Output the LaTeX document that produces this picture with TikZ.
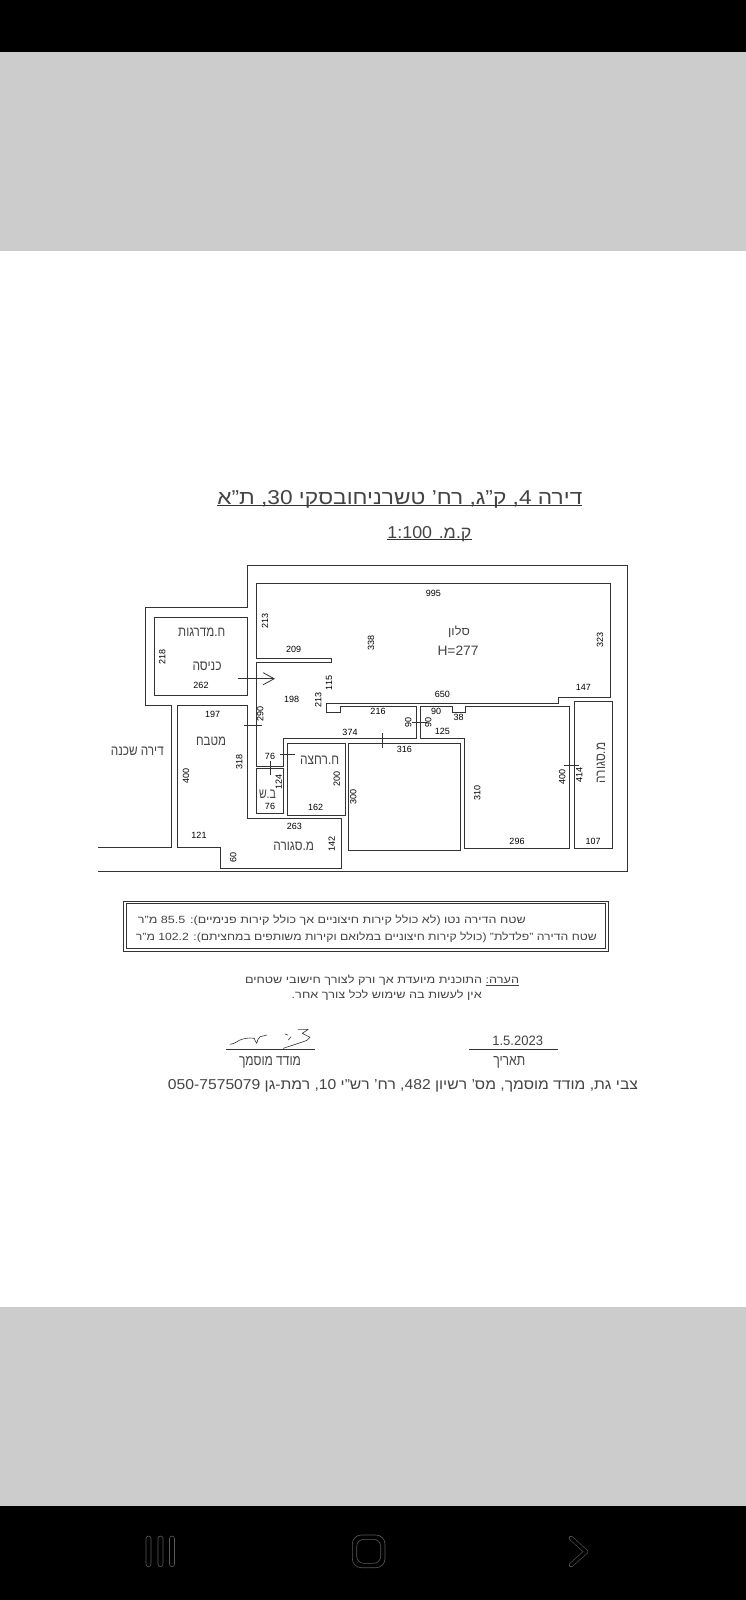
\documentclass[tikz,border=0pt]{standalone}
\usepackage{graphicx}
\usepackage{fontspec}
\setmainfont[Script=Hebrew]{Liberation Sans}
\TeXXeTstate=1
\usetikzlibrary{arrows.meta}
\definecolor{wallc}{HTML}{333333}
\definecolor{bandgray}{HTML}{CCCCCC}
\definecolor{navc}{HTML}{5A5A5A}
\definecolor{textc}{HTML}{444444}
\newcommand\hb[1]{\beginR #1\endR}
\newcommand\lt[1]{\beginL #1\endL}
\newcommand\fit[3]{\resizebox{#1pt}{#2pt}{#3}}
\tikzset{
  wall/.style={draw=wallc,line width=1pt,line join=miter},
  tick/.style={draw=wallc,line width=0.9pt},
  dim/.style={font=\fontsize{9}{9}\selectfont,text=black,inner sep=0pt},
  dimv/.style={dim,rotate=90},
  lab/.style={text=textc,inner sep=0pt,anchor=base},
  navicon/.style={draw=navc,line width=0.6pt},
  sig/.style={draw=wallc,line width=0.6pt,line cap=round,line join=round}
}
\begin{document}
\begin{tikzpicture}[x=1pt,y=-1pt]
\useasboundingbox (0,0) rectangle (746,1600);
% screen bands
\fill[white] (0,0) rectangle (746,1600);
\fill[black] (0,0) rectangle (746,52);
\fill[bandgray] (0,52) rectangle (746,251);
\fill[bandgray] (0,1307) rectangle (746,1506);
\fill[black] (0,1506) rectangle (746,1600);
% navigation icons
\draw[navicon,rounded corners=2.5pt] (146,1536) rectangle (151,1566.7);
\draw[navicon,rounded corners=2.5pt] (158,1536) rectangle (163,1566.7);
\draw[navicon,rounded corners=2.5pt] (169.5,1536) rectangle (174.5,1566.7);
\draw[navicon,rounded corners=9pt] (352.3,1535) rectangle (385,1567.7);
\draw[navicon,rounded corners=7pt] (356.7,1539.3) rectangle (380.7,1563.3);
\draw[navc,line width=4.4pt,line cap=round,line join=round] (571,1538) -- (586,1551.7) -- (571,1565);
\draw[black,line width=3.2pt,line cap=round,line join=round] (571,1538) -- (586,1551.7) -- (571,1565);
% title
\node[lab] (title) at (399.8,504) {\fit{365}{14}{\hb{דירה \lt{4}, ק"ג, רח' טשרניחובסקי \lt{30}, ת"א}}};
\draw[wallc,line width=0.8pt] (217.3,505.7) -- (582.3,505.7);
\node[lab] (scaletxt) at (429.5,538) {\fit{84}{12}{\hb{ק.מ. \lt{1:100}}}};
\draw[wallc,line width=0.8pt] (387.3,539.3) -- (471.7,539.3);
% outer line
\draw[wall,draw=wallc] (98.3,871.7) -- (627.3,871.7) -- (627.3,565) -- (247.3,565) -- (247.3,607.3) -- (145.7,607.3) -- (145.7,705) -- (171,705) -- (171,847.3) -- (98.3,847.3);
% stairs
\draw[wall] (154.3,617.7) rectangle (247.3,695.3);
% living + corridor
\draw[wall] (256.3,583) -- (610.3,583) -- (610.3,697.7) -- (558.3,697.7) -- (558.3,703.3) -- (326.7,703.3) -- (326.7,712.3) -- (340,712.3) -- (340,706) -- (416.7,706) -- (416.7,738.3) -- (283.3,738.3) -- (283.3,766) -- (256.3,766) -- (256.3,662.3) -- (331,662.3) -- (331,658.3) -- (256.3,658.3) -- cycle;
% right room
\draw[wall] (420,738.3) -- (420,706) -- (452.3,706) -- (452.3,712.3) -- (465.7,712.3) -- (465.7,706) -- (569.7,706) -- (569.7,848.3) -- (464.7,848.3) -- (464.7,738.3) -- cycle;
% balcony
\draw[wall] (574.3,701) rectangle (612.7,848.3);
% central room
\draw[wall] (348.7,743.3) rectangle (460.7,850.3);
% bath, wc
\draw[wall] (287.3,743.3) rectangle (345,815);
\draw[wall] (256.3,768.7) rectangle (283.7,813.3);
% kitchen
\draw[wall] (177.3,705) -- (247.3,705) -- (247.3,818.3) -- (341.3,818.3) -- (341.3,868.3) -- (220.7,868.3) -- (220.7,847.3) -- (177.3,847.3) -- cycle;
% door ticks
\draw[tick] (244,725) -- (261.7,725);
\draw[tick] (280.3,754.3) -- (295,754.3);
\draw[tick] (270,760.7) -- (270,775);
\draw[tick] (382,733.3) -- (382,748);
\draw[tick] (411.7,722) -- (426.7,722);
\draw[tick] (564,765.3) -- (579,765.3);
% entry arrow
\draw[draw=wallc,line width=0.8pt,-{Straight Barb[length=11pt,width=12pt,line width=0.8pt]}] (237.7,678.7) -- (275,678.7);
% room labels
\node[lab] (l1) at (201.7,636) {\fit{47}{8.5}{\hb{ח.מדרגות}}};
\node[lab] (l2) at (207,670.7) {\fit{29}{8.5}{\hb{כניסה}}};
\node[lab] (l3) at (459,635) {\fit{21.7}{9.5}{\hb{סלון}}};
\node[lab] (l4) at (458,655) {\fit{41}{9.5}{H=277}};
\node[lab] (l5) at (211,745) {\fit{30}{8.5}{\hb{מטבח}}};
\node[lab] (l6) at (137.3,755) {\fit{53}{8.5}{\hb{דירה שכנה}}};
\node[lab] (l7) at (319.7,764.7) {\fit{39}{8.5}{\hb{ח.רחצה}}};
\node[lab] (l8) at (267.5,798.3) {\fit{17}{8.5}{\hb{ב.ש}}};
\node[lab] (l9) at (293.7,850) {\fit{40.7}{8.5}{\hb{מ.סגורה}}};
\node[lab,rotate=90] (l10) at (605,763) {\fit{40.7}{8.5}{\hb{מ.סגורה}}};
% horizontal dims
\node[dim] (d1) at (201,685) {262};
\node[dim] (d2) at (293.7,649.3) {209};
\node[dim] (d3) at (291.7,699.3) {198};
\node[dim] (d4) at (378,711.7) {216};
\node[dim] (d5) at (433.3,593.3) {995};
\node[dim] (d6) at (583.3,687.3) {147};
\node[dim] (d7) at (442.3,694) {650};
\node[dim] (d8) at (436,711.3) {90};
\node[dim] (d9) at (458.7,717.3) {38};
\node[dim] (d10) at (442.3,731.3) {125};
\node[dim] (d11) at (404.3,749) {316};
\node[dim] (d12) at (517,841) {296};
\node[dim] (d13) at (593,841) {107};
\node[dim] (d14) at (212.7,714) {197};
\node[dim] (d15) at (270,756) {76};
\node[dim] (d16) at (270,806.7) {76};
\node[dim] (d17) at (315.7,807.7) {162};
\node[dim] (d18) at (294.3,826) {263};
\node[dim] (d19) at (199,835.7) {121};
\node[dim] (d20) at (350,732) {374};
% vertical dims
\node[dimv] (v1) at (162.3,656.7) {218};
\node[dimv] (v2) at (265,620.7) {213};
\node[dimv] (v3) at (371,643.3) {338};
\node[dimv] (v4) at (329,683.3) {115};
\node[dimv] (v5) at (318.3,700) {213};
\node[dimv] (v6) at (260.3,714) {290};
\node[dimv] (v7) at (600,640) {323};
\node[dimv] (v8) at (408.3,722) {90};
\node[dimv] (v9) at (428.3,722) {90};
\node[dimv] (v10) at (477.3,793.3) {310};
\node[dimv] (v11) at (562.3,777.3) {400};
\node[dimv] (v12) at (579.3,775) {414};
\node[dimv] (v13) at (186,776) {400};
\node[dimv] (v14) at (239.3,761.7) {318};
\node[dimv] (v15) at (278.7,782.3) {124};
\node[dimv] (v16) at (336.7,779) {200};
\node[dimv] (v17) at (353.3,796.7) {300};
\node[dimv] (v18) at (331.7,844) {142};
\node[dimv] (v19) at (233.3,857.7) {60};
% area box
\draw[wall,line width=0.9pt] (123.3,901) rectangle (608.3,951);
\draw[wall,line width=0.9pt] (126,903.5) rectangle (605.6,948.5);
\node[lab] (a1) at (331.8,923) {\fit{387.7}{8.5}{\hb{שטח הדירה נטו (לא כולל קירות חיצוניים אך כולל קירות פנימיים): \lt{85.5} מ"ר}}};
\node[lab] (a2) at (366.3,940) {\fit{460.7}{8.5}{\hb{שטח הדירה "פלדלת" (כולל קירות חיצוניים במלואם וקירות משותפים במחציתם): \lt{102.2} מ"ר}}};
% note
\node[lab] (n1) at (382,983.3) {\fit{274}{8.5}{\hb{\underline{הערה:} התוכנית מיועדת אך ורק לצורך חישובי שטחים}}};
\node[lab] (n2) at (386.7,998.3) {\fit{190}{8.5}{\hb{אין לעשות בה שימוש לכל צורך אחר.}}};
% signature
\draw[wallc,line width=0.8pt] (226,1049) -- (315,1049);
\draw[wallc,line width=0.8pt] (469.3,1049) -- (558.3,1049);
\draw[sig] (230,1044.3) .. controls (236,1043.5) and (238,1040.5) .. (240,1040) .. controls (244,1038.5) and (248,1037.5) .. (254.3,1038.3) .. controls (255,1040) and (255.5,1042) .. (256.7,1043.3) .. controls (257.5,1041) and (258,1038) .. (260,1036.7) -- (266.7,1035);
\draw[sig] (285,1034) -- (287.7,1035);
\draw[sig] (288.3,1040) -- (291,1036.7);
\draw[sig] (298.3,1029.3) -- (308.3,1029.3) -- (302.3,1033.3) -- (310,1037.3) .. controls (308,1040) and (306,1041) .. (303.3,1041.7) -- (283.3,1048.3);
\node[lab] (sdate) at (517.7,1045) {\fit{50.7}{9.5}{1.5.2023}};
\node[lab] (sdatel) at (509.3,1065.7) {\fit{32}{9}{\hb{תאריך}}};
\node[lab] (ssign) at (270,1065.7) {\fit{62}{9}{\hb{מודד מוסמך}}};
\node[lab] (footer) at (403,1089.3) {\fit{470}{10}{\hb{צבי גת, מודד מוסמך, מס' רשיון \lt{482}, רח' רש"י \lt{10}, רמת-גן \lt{050-7575079}}}};
\end{tikzpicture}
\end{document}
